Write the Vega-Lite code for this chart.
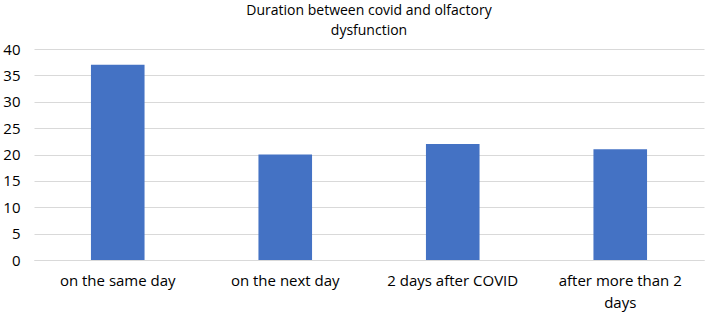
{
  "$schema": "https://vega.github.io/schema/vega-lite/v6.json",
  "width": 708,
  "height": 319,
  "autosize": {"type": "fit", "contains": "padding"},
  "padding": {"left": 2, "right": 4, "top": 4, "bottom": 9},
  "background": "white",
  "title": {
    "text": "Duration between covid and olfactory",
    "subtitle": "dysfunction",
    "font": "Open Sans",
    "subtitleFont": "Open Sans",
    "fontSize": 14,
    "subtitleFontSize": 14,
    "fontWeight": 500,
    "color": "#000000",
    "subtitleColor": "#000000",
    "anchor": "middle",
    "offset": 4,
    "subtitlePadding": 6
  },
  "config": {
    "view": {"stroke": null},
    "axis": {"labelFont": "Open Sans", "labelFontSize": 15, "labelColor": "#000000"}
  },
  "data": {
    "values": [
      {"category": "on the same day", "value": 37},
      {"category": "on the next day", "value": 20},
      {"category": "2 days after COVID", "value": 22},
      {"category": "after more than 2 days", "value": 21}
    ]
  },
  "mark": {"type": "bar", "color": "#4472C4"},
  "encoding": {
    "x": {
      "field": "category",
      "type": "nominal",
      "sort": null,
      "title": null,
      "scale": {"paddingInner": 0.68, "paddingOuter": 0.34},
      "axis": {
        "labelAngle": 0,
        "ticks": false,
        "domainColor": "#d9d9d9",
        "labelPadding": 13,
        "labelLimit": 0,
        "labelExpr": "datum.value == 'after more than 2 days' ? ['after more than 2', 'days'] : datum.value",
        "labelLineHeight": 22
      }
    },
    "y": {
      "field": "value",
      "type": "quantitative",
      "title": null,
      "scale": {"domain": [0, 40]},
      "axis": {
        "values": [0, 5, 10, 15, 20, 25, 30, 35, 40],
        "domain": false,
        "ticks": false,
        "gridColor": "#d9d9d9",
        "labelPadding": 14
      }
    }
  }
}
